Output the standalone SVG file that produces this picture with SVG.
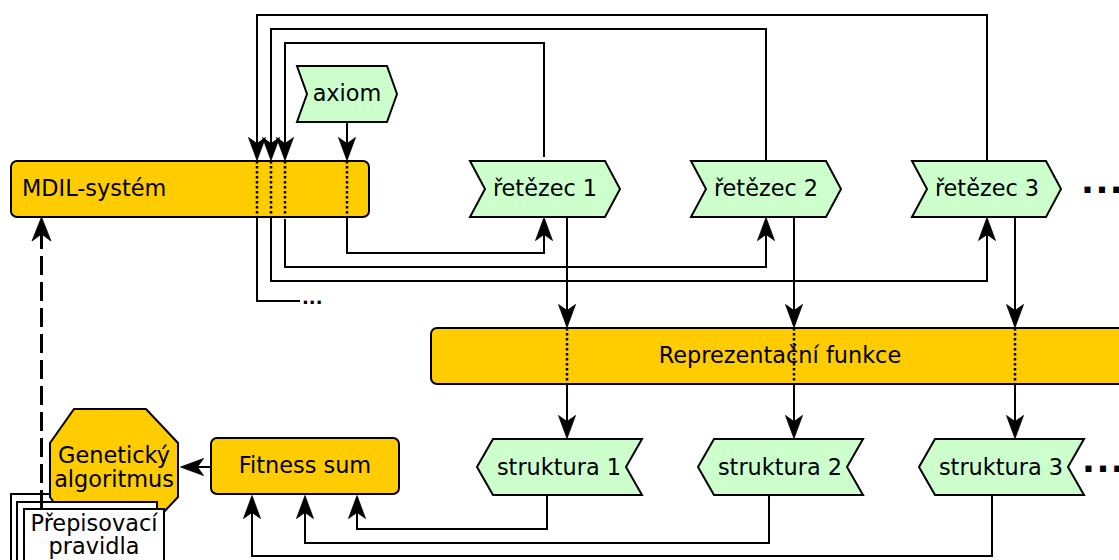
<svg xmlns="http://www.w3.org/2000/svg" width="1119" height="560" viewBox="0 0 1119 560">
  <style>
    .proc { fill: #ffcc00; stroke: #000; stroke-width: 2; }
    .data { fill: #ccffcc; stroke: #000; stroke-width: 2; stroke-linejoin: miter; }
    .doc { fill: #ffffff; stroke: #000; stroke-width: 2; }
    .lbl { font-family: "DejaVu Sans", "Liberation Sans", sans-serif; font-size: 22.4px; fill: #000; }
    .mid { text-anchor: middle; }
    .more { font-family: "DejaVu Sans", sans-serif; font-weight: bold; fill: #000; }
    .wire { fill: none; stroke: #000; stroke-width: 2; }
    .dot { fill: none; stroke: #000; stroke-width: 2.5; stroke-dasharray: 2.5 2.5; }
    .dash { fill: none; stroke: #000; stroke-width: 3; stroke-dasharray: 19 7; }
    .tip { fill: #000; stroke: #000; stroke-width: 0.8; stroke-linejoin: miter; }
  </style>
  <defs>
    <!-- barbed arrowhead, tip at the origin, pointing down -->
    <path id="ah" d="M0,0 L-8.5,-23 L0,-17 L8.5,-23 Z"/>
    <path id="ahBig" d="M0,0 L-9.5,-24 L0,-17 L9.5,-24 Z"/>
  </defs>

  <!-- connectors -->
  <g id="connectors">
    <!-- axiom into the MDIL system -->
    <path class="wire" d="M347,122 V145"/>
    <!-- strings fed back into the MDIL system -->
    <path class="wire" d="M544,157 V43 H285 V145"/>
    <path class="wire" d="M766,161 V29 H271 V145"/>
    <path class="wire" d="M987,161 V15 H257 V145"/>
    <!-- MDIL system producing strings -->
    <path class="wire" d="M347,217 V253 H544 V233"/>
    <path class="wire" d="M285,219 V267 H766 V233"/>
    <path class="wire" d="M271,217 V281 H987 V233"/>
    <path class="wire" d="M257,217 V301 H300"/>
    <!-- strings through the representation function -->
    <path class="wire" d="M567,217 V312 M567,384 V423"/>
    <path class="wire" d="M794,217 V312 M794,384 V423"/>
    <path class="wire" d="M1015,217 V312 M1015,384 V423"/>
    <!-- structures to fitness -->
    <path class="wire" d="M547,495 V529 H357 V511"/>
    <path class="wire" d="M769,495 V543 H305 V511"/>
    <path class="wire" d="M992,495 V556 H252 V511"/>
    <!-- fitness to genetic algorithm -->
    <path class="wire" d="M211,467 H196"/>

    <!-- arrowheads -->
    <g class="tip">
      <use href="#ah" transform="translate(347,160.5)"/>
      <use href="#ah" transform="translate(257,160.5)"/>
      <use href="#ah" transform="translate(271,160.5)"/>
      <use href="#ah" transform="translate(285,160.5)"/>
      <use href="#ah" transform="translate(544,217.5) rotate(180)"/>
      <use href="#ah" transform="translate(766,217.5) rotate(180)"/>
      <use href="#ah" transform="translate(987,217.5) rotate(180)"/>
      <use href="#ah" transform="translate(567,327.5)"/>
      <use href="#ah" transform="translate(794,327.5)"/>
      <use href="#ah" transform="translate(1015,327.5)"/>
      <use href="#ah" transform="translate(567,438.5)"/>
      <use href="#ah" transform="translate(794,438.5)"/>
      <use href="#ah" transform="translate(1015,438.5)"/>
      <use href="#ah" transform="translate(357,495.5) rotate(180)"/>
      <use href="#ah" transform="translate(305,495.5) rotate(180)"/>
      <use href="#ah" transform="translate(252,495.5) rotate(180)"/>
      <use href="#ah" transform="translate(180.5,467) rotate(90)"/>
    </g>
  </g>

  <g id="mdil">
    <rect class="proc" x="11" y="161" width="358" height="56" rx="6"/>
    <text class="lbl" x="22" y="196">MDIL-systém</text>
  </g>

  <g id="axiom">
    <path class="data" d="M297,66 H387 L397,94 L387,122 H297 L307,94 Z"/>
    <text class="lbl mid" x="347" y="101">axiom</text>
  </g>

  <g id="retezec1">
    <path class="data" d="M470,161 H605 L620,189 L605,217 H470 L485,189 Z"/>
    <text class="lbl mid" x="545" y="196">řetězec 1</text>
  </g>
  <g id="retezec2">
    <path class="data" d="M691,161 H826 L841,189 L826,217 H691 L706,189 Z"/>
    <text class="lbl mid" x="766" y="196">řetězec 2</text>
  </g>
  <g id="retezec3">
    <path class="data" d="M912,161 H1046 L1061,189 L1046,217 H912 L927,189 Z"/>
    <text class="lbl mid" x="987" y="196">řetězec 3</text>
  </g>

  <g id="reprezentace">
    <rect class="proc" x="431" y="328" width="700" height="56" rx="6"/>
    <text class="lbl mid" x="780" y="363">Reprezentační funkce</text>
  </g>

  <g id="struktura1">
    <path class="data" d="M493,439 H642 L626,467 L642,495 H493 L477,467 Z"/>
    <text class="lbl mid" x="559" y="475">struktura 1</text>
  </g>
  <g id="struktura2">
    <path class="data" d="M714,439 H863 L847,467 L863,495 H714 L698,467 Z"/>
    <text class="lbl mid" x="780" y="475">struktura 2</text>
  </g>
  <g id="struktura3">
    <path class="data" d="M935,439 H1084 L1068,467 L1084,495 H935 L919,467 Z"/>
    <text class="lbl mid" x="1001" y="475">struktura 3</text>
  </g>

  <g id="fitness">
    <rect class="proc" x="211" y="438" width="188" height="56" rx="6"/>
    <text class="lbl mid" x="305" y="473">Fitness sum</text>
  </g>

  <!-- rewriting rules sit partly under / partly over the GA octagon -->
  <g id="pravidla-back">
    <rect class="doc" x="11" y="494" width="140" height="80"/>
  </g>

  <g id="ga">
    <path class="proc" d="M74,409 H146 L178,443 V497 L146,531 H74 L50,497 V443 Z"/>
    <text class="lbl mid" x="114" y="463">Genetický</text>
    <text class="lbl mid" x="114" y="487">algoritmus</text>
  </g>

  <g id="pravidla">
    <rect class="doc" x="17" y="502" width="140" height="80"/>
    <path class="dash" d="M41.5,509 V234"/>
    <use class="tip" href="#ahBig" transform="translate(41.5,217) rotate(180)"/>
    <rect class="doc" x="24" y="509" width="140" height="80"/>
    <text class="lbl mid" x="94" y="531">Přepisovací</text>
    <text class="lbl mid" x="94" y="554">pravidla</text>
  </g>

  <!-- pass-through markers inside the boxes -->
  <g id="pass-through">
    <path class="dot" d="M257,161 V217 M271,161 V217 M285,161 V217 M347,161 V217"/>
    <path class="dot" d="M567,328 V384 M794,328 V384 M1015,328 V384"/>
  </g>

  <!-- continuation marks -->
  <g id="continuation">
    <text class="more" x="302" y="304" font-size="18">...</text>
    <text class="more" x="1081" y="192.5" font-size="34" letter-spacing="1.5">...</text>
    <text class="more" x="1082" y="472" font-size="34" letter-spacing="1.5">...</text>
  </g>
</svg>
